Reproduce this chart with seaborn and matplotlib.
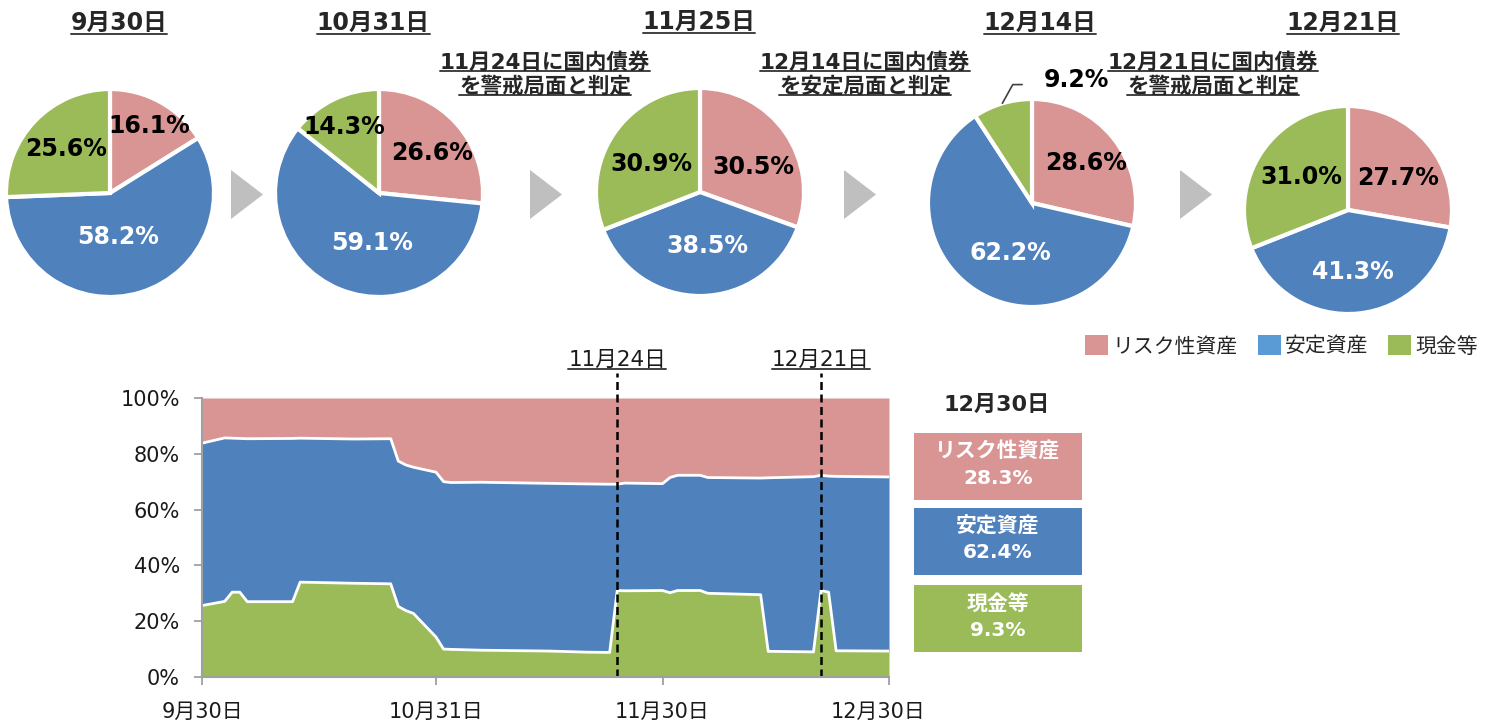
import numpy as np
import pandas as pd
import matplotlib
matplotlib.use("Agg")
import matplotlib.pyplot as plt
import matplotlib.transforms as mtransforms
from matplotlib.patches import Polygon, Rectangle, Patch
import seaborn as sns

sns.set_theme(style="ticks")
plt.rcParams["font.family"] = ["DejaVu Sans", "Noto Sans CJK JP"]

# ---- data ----
categories = ["リスク性資産", "安定資産", "現金等"]
colors = ["#D99594", "#4F81BD", "#9BBB59"]
legend_colors = ["#D99594", "#5B9BD5", "#9BBB59"]

pie_titles = ["9月30日", "10月31日", "11月25日", "12月14日", "12月21日"]
pie_values = [
    [16.1, 58.2, 25.6],
    [26.6, 59.1, 14.3],
    [30.5, 38.5, 30.9],
    [28.6, 62.2, 9.2],
    [27.7, 41.3, 31.0],
]
notes = [
    ["11月24日に国内債券", "を警戒局面と判定"],
    ["12月14日に国内債券", "を安定局面と判定"],
    ["12月21日に国内債券", "を警戒局面と判定"],
]

dates = ["2023-09-30", "2023-10-03", "2023-10-04", "2023-10-05", "2023-10-06",
         "2023-10-12", "2023-10-13", "2023-10-20", "2023-10-25", "2023-10-26",
         "2023-10-27", "2023-10-28", "2023-10-31", "2023-11-01", "2023-11-02",
         "2023-11-06", "2023-11-15", "2023-11-20", "2023-11-23", "2023-11-24",
         "2023-11-25", "2023-11-30", "2023-12-01", "2023-12-02", "2023-12-05",
         "2023-12-06", "2023-12-13", "2023-12-14", "2023-12-20", "2023-12-21",
         "2023-12-22", "2023-12-23", "2023-12-30"]
cash = [25.6, 27.1, 30.4, 30.4, 27.0, 27.0, 34.0, 33.6, 33.4, 25.3,
        23.8, 22.8, 14.3, 10.0, 9.9, 9.6, 9.3, 8.9, 8.8, 31.0,
        30.9, 31.0, 30.2, 31.0, 31.0, 30.0, 29.5, 9.2, 9.0, 31.0,
        30.4, 9.4, 9.3]
stable = [58.2, 58.6, 55.2, 55.1, 58.4, 58.5, 51.6, 51.7, 52.0, 52.1,
          52.2, 52.4, 59.1, 60.0, 59.8, 60.2, 60.1, 60.3, 60.3, 38.1,
          38.6, 38.3, 41.3, 41.3, 41.3, 41.5, 41.8, 62.2, 62.8, 41.3,
          41.6, 62.5, 62.4]

x_ticks = ["2023-09-30", "2023-10-31", "2023-11-30", "2023-12-30"]
x_tick_labels = ["9月30日", "10月31日", "11月30日", "12月30日"]
signal_dates = ["2023-11-24", "2023-12-21"]
signal_labels = ["11月24日", "12月21日"]

final_title = "12月30日"
final_values = [28.3, 62.4, 9.3]

# ---- layout (pixels) ----
W, H = 1491, 722
R = 104
pie_centers = [(110, 193), (379, 193), (700, 192), (1032, 203), (1348, 210)]
title_pos = [(119, 23), (373, 23), (699, 22), (1040, 23), (1343, 23)]
label_pos = [
    [(0.38, 0.64), (0.08, -0.42), (-0.42, 0.42)],
    [(0.51, 0.38), (-0.07, -0.48), (-0.33, 0.63)],
    [(0.51, 0.24), (0.07, -0.52), (-0.47, 0.27)],
    [(0.52, 0.38), (-0.21, -0.48), (0.43, 1.18)],
    [(0.48, 0.31), (0.05, -0.60), (-0.45, 0.32)],
]
label_colors = ["black", "white", "black"]
note_x = [545, 865, 1213]
arrow_x = [231, 530, 844, 1180]

fig = plt.figure(figsize=(W / 100, H / 100), dpi=100)

# ---- pies ----
for i, (cx, cy) in enumerate(pie_centers):
    pax = fig.add_axes([(cx - R) / W, 1 - (cy + R) / H, 2 * R / W, 2 * R / H])
    pax.pie(pie_values[i], colors=colors, startangle=90, counterclock=False,
            wedgeprops=dict(edgecolor="white", linewidth=3))
    pax.set_xlim(-1, 1)
    pax.set_ylim(-1, 1)
    for j, v in enumerate(pie_values[i]):
        lx, ly = label_pos[i][j]
        pax.text(lx, ly, f"{v:.1f}%", ha="center", va="center", fontsize=17,
                 fontweight="bold", color=label_colors[j], clip_on=False,
                 family="DejaVu Sans")
    if pie_values[i][2] < 10:
        th = np.deg2rad(90 + 360 * pie_values[i][2] / 100 / 2)
        p0 = np.array([np.cos(th), np.sin(th)]) * 1.0
        p1 = p0 + np.array([0.1, 0.18])
        p2 = p1 + np.array([0.09, 0])
        pax.plot([p0[0], p1[0], p2[0]], [p0[1], p1[1], p2[1]],
                 color="#404040", lw=1.2, clip_on=False)

# ---- area chart ----
ax = fig.add_axes([202 / W, 1 - 677 / H, 687 / W, 279 / H])
d = pd.to_datetime(dates)
c = np.array(cash)
top = c + np.array(stable)
ax.fill_between(d, 0, c, color=colors[2], lw=0)
ax.fill_between(d, c, top, color=colors[1], lw=0)
ax.fill_between(d, top, 100, color=colors[0], lw=0)
sns.lineplot(x=d, y=c, color="white", lw=2, ax=ax)
sns.lineplot(x=d, y=top, color="white", lw=2, ax=ax)
ax.set_xlim(d[0], d[-1])
ax.set_ylim(0, 100)
ax.set_yticks([0, 20, 40, 60, 80, 100])
ax.set_yticklabels([f"{t}%" for t in [0, 20, 40, 60, 80, 100]])
ax.set_xticks(pd.to_datetime(x_ticks))
ax.set_xticklabels(x_tick_labels)
ax.set_xlabel("")
ax.set_ylabel("")
sns.despine(ax=ax)
for s in ["left", "bottom"]:
    ax.spines[s].set_color("#A0A0A0")
    ax.spines[s].set_linewidth(1.5)
ax.tick_params(axis="both", direction="out", length=6, width=1.3,
               color="#A0A0A0", labelsize=15, labelcolor="#1A1A1A",
               left=True, bottom=True)
ax.tick_params(axis="y", pad=10)
ax.tick_params(axis="x", pad=12)
lab = ax.get_xticklabels()[-1]
lab.set_transform(lab.get_transform() +
                  mtransforms.ScaledTranslation(-0.11, 0, fig.dpi_scale_trans))
sig_texts = []
for sd, sl in zip(signal_dates, signal_labels):
    sx = pd.Timestamp(sd)
    ax.axvline(sx, ymin=0, ymax=1.09, color="black", ls=(0, (3.2, 1.8)),
               lw=1.8, clip_on=False)
    sig_texts.append(ax.text(sx, 113.6, sl, ha="center", va="center",
                             fontsize=15.5, color="#1A1A1A", clip_on=False))

# ---- overlay in pixel coords ----
over = fig.add_axes([0, 0, 1, 1])
over.set_xlim(0, W)
over.set_ylim(H, 0)
over.axis("off")
over.patch.set_alpha(0)

title_texts = []
for (tx, ty), t in zip(title_pos, pie_titles):
    title_texts.append(over.text(tx, ty, t, ha="center", va="center",
                                 fontsize=17, fontweight="bold"))
note_texts = []
for nx, lines in zip(note_x, notes):
    for ny, line in zip([62, 86], lines):
        note_texts.append(over.text(nx, ny, line, ha="center", va="center",
                                    fontsize=15.5, fontweight="bold"))
for axx in arrow_x:
    over.add_patch(Polygon([[axx, 170], [axx + 32, 194.5], [axx, 219]],
                           closed=True, color="#BFBFBF", lw=0))

# 12/30 boxes
over.text(997, 405, final_title, ha="center", va="center", fontsize=16,
          fontweight="bold")
for k, top_y in enumerate([433, 508, 585]):
    over.add_patch(Rectangle((914, top_y), 168, 67, color=colors[k], lw=0))
    over.text(998, top_y + 19, categories[k], ha="center", va="center",
              fontsize=15, fontweight="bold", color="white")
    over.text(998, top_y + 45, f"{final_values[k]:.1f}%", ha="center",
              va="center", fontsize=14.5, fontweight="bold", color="white")

handles = [Patch(facecolor=col, edgecolor="none") for col in legend_colors]
fig.legend(handles, categories, loc="center right",
           bbox_to_anchor=(1486 / W, 1 - 346 / H), ncol=3, frameon=False,
           fontsize=15, handlelength=1.1, handleheight=1.1,
           handletextpad=0.2, columnspacing=0.95, borderaxespad=0)

# underlines
fig.canvas.draw()
renderer = fig.canvas.get_renderer()
for t in title_texts + note_texts + sig_texts:
    bb = t.get_window_extent(renderer)
    y = H - bb.y0 - 1
    over.plot([bb.x0, bb.x1], [y, y], color="#404040", lw=1.4)

fig.savefig("out.png", dpi=100)
